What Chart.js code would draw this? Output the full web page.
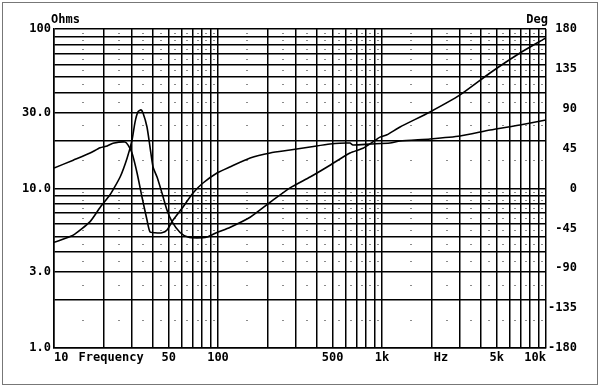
<!DOCTYPE html>
<html>
<head>
<meta charset="utf-8">
<script src="https://cdn.jsdelivr.net/npm/chart.js@4"></script>
<style>
  html, body { margin: 0; padding: 0; background: #fff; }
  #wrap { position: relative; width: 600px; height: 387px; }
  #frame { position: absolute; left: 2px; top: 2px; width: 594px; height: 381px; border: 1px solid #777; pointer-events: none; }
  canvas { position: absolute; left: 0; top: 0; }
</style>
</head>
<body>
<div id="wrap">
  <canvas id="chart" width="600" height="387"></canvas>
  <div id="frame"></div>
</div>
<script>
// impedance curve (Hz, ohms)
const zFreq = [10, 13.1, 16.6, 19.1, 21.9, 22.9, 25.3, 27.9, 29.9, 31.2, 32.5, 33.9, 34.9, 36.9, 38.5, 40.2, 42.5, 45.5, 48.9, 52.4, 58.7, 65.6, 74.5, 85.7, 98.6, 118, 157, 208, 275, 364, 482, 638, 766, 881, 972, 1072, 1288, 1963, 2990, 4557, 6941, 10000];
const zOhms = [4.6, 5.1, 6.2, 7.6, 9.1, 9.8, 11.8, 15.5, 20.1, 26.1, 30.2, 31.1, 29.7, 24.3, 18.2, 13.6, 11.8, 9.4, 7.3, 6.2, 5.3, 4.96, 4.9, 4.96, 5.3, 5.7, 6.6, 8.2, 10.1, 11.8, 14.0, 16.7, 17.9, 19.6, 21.0, 21.7, 24.3, 30.2, 38.6, 53.0, 70.7, 88];

// phase curve (Hz, degrees)
const pFreq = [10, 13.1, 16.6, 19.1, 21.1, 22.9, 27.1, 28.3, 29.9, 32.1, 34.4, 36.9, 38.5, 41.3, 45.5, 48.9, 53.2, 61.2, 70.4, 81, 98.6, 118, 157, 208, 275, 364, 482, 638, 665, 845, 1119, 1288, 1963, 2990, 4557, 6941, 10000];
const pDeg = [23, 32, 40, 46, 48, 51, 52.5, 49, 40, 17.5, -9.6, -35.5, -49, -50, -50, -46.8, -35.5, -20.9, -5.1, 6.2, 17.5, 24.3, 34.4, 40.1, 43.4, 46.8, 50.2, 51.3, 49.1, 50.2, 51.3, 53.6, 55.9, 59.2, 66, 71.7, 77.3];

// axes
const gridFreqs = [10, 20, 30, 40, 50, 60, 70, 80, 90, 100, 200, 300, 400, 500, 600, 700, 800, 900, 1000, 2000, 3000, 4000, 5000, 6000, 7000, 8000, 9000, 10000];
const xLabelAt = [10, 22.3, 50, 100, 500, 1000, 2290, 5000, 10000];
const xLabels = ['10', 'Frequency', '50', '100', '500', '1k', 'Hz', '5k', '10k'];
const gridOhms = [1, 2, 3, 4, 5, 6, 7, 8, 9, 10, 20, 30, 40, 50, 60, 70, 80, 90, 100];
const ohmLabelAt = [1, 3, 10, 30, 100];
const ohmLabels = ['1.0', '3.0', '10.0', '30.0', '100'];
const degTicks = [-180, -135, -90, -45, 0, 45, 90, 135, 180];

// half-step dots between grid lines
const dotFreqs = [];
const dotOhms = [];
[10, 100, 1000].forEach(d => { for (let k = 1.5; k < 10; k++) dotFreqs.push(k * d); });
[1, 10].forEach(d => { for (let k = 1.5; k < 10; k++) dotOhms.push(k * d); });

const font = { family: 'DejaVu Sans Mono', size: 12, weight: 'bold' };

const extras = {
  id: 'extras',
  beforeDatasetsDraw(chart) {
    const { ctx, scales: { x, y } } = chart;
    ctx.save();
    ctx.fillStyle = '#8a8a8a';
    dotFreqs.forEach(f => dotOhms.forEach(o => {
      const px = Math.round(x.getPixelForValue(f));
      const py = Math.round(y.getPixelForValue(o));
      ctx.fillRect(px - 1, py, 2, 1);
    }));
    ctx.restore();
  },
  afterDraw(chart) {
    const { ctx, chartArea } = chart;
    ctx.save();
    ctx.fillStyle = '#000';
    ctx.font = 'bold 12px "DejaVu Sans Mono"';
    ctx.textBaseline = 'middle';
    ctx.textAlign = 'left';
    ctx.fillText('Ohms', chartArea.left - 3, chartArea.top - 9);
    ctx.textAlign = 'right';
    ctx.fillText('Deg', chartArea.right + 2, chartArea.top - 9);
    ctx.restore();
  }
};

new Chart(document.getElementById('chart'), {
  type: 'scatter',
  data: {
    datasets: [
      {
        label: 'Impedance',
        data: zFreq.map((f, i) => ({ x: f, y: zOhms[i] })),
        yAxisID: 'y',
        showLine: true,
        borderColor: '#000',
        borderWidth: 1.6,
        pointRadius: 0,
        tension: 0.2
      },
      {
        label: 'Phase',
        data: pFreq.map((f, i) => ({ x: f, y: pDeg[i] })),
        yAxisID: 'y2',
        showLine: true,
        borderColor: '#000',
        borderWidth: 1.6,
        pointRadius: 0,
        tension: 0.2
      }
    ]
  },
  options: {
    responsive: false,
    animation: false,
    layout: { padding: { left: 0, right: 23, top: 29, bottom: 0 } },
    plugins: { legend: { display: false }, tooltip: { enabled: false } },
    scales: {
      x: {
        type: 'logarithmic',
        min: 10,
        max: 10000,
        afterBuildTicks(scale) {
          const vals = [...new Set([...gridFreqs, ...xLabelAt])].sort((a, b) => a - b);
          scale.ticks = vals.map(v => ({ value: v }));
        },
        afterFit(scale) { scale.height = 39; },
        grid: {
          color: c => gridFreqs.includes(c.tick && c.tick.value) ? '#000' : 'rgba(0,0,0,0)',
          lineWidth: 1.5,
          drawTicks: false
        },
        border: { display: true, color: '#000', width: 1.5 },
        ticks: {
          autoSkip: false,
          maxRotation: 0,
          align: 'inner',
          padding: 3,
          color: '#000',
          font,
          callback: v => {
            const i = xLabelAt.indexOf(v);
            return i >= 0 ? xLabels[i] : '';
          }
        }
      },
      y: {
        type: 'logarithmic',
        position: 'left',
        min: 1,
        max: 100,
        afterBuildTicks(scale) { scale.ticks = gridOhms.map(v => ({ value: v })); },
        afterFit(scale) { scale.width = 54; },
        grid: { color: '#000', lineWidth: 1.5, drawTicks: false },
        border: { display: true, color: '#000', width: 1.5 },
        ticks: {
          autoSkip: false,
          padding: 3,
          color: '#000',
          font,
          callback: v => {
            const i = ohmLabelAt.indexOf(v);
            return i >= 0 ? ohmLabels[i] : '';
          }
        }
      },
      y2: {
        type: 'linear',
        position: 'right',
        min: -180,
        max: 180,
        afterBuildTicks(scale) { scale.ticks = degTicks.map(v => ({ value: v })); },
        afterFit(scale) { scale.width = 31; },
        grid: { display: false, drawTicks: false },
        border: { display: false },
        ticks: {
          autoSkip: false,
          crossAlign: 'far',
          color: '#000',
          font,
          callback: v => String(v)
        }
      }
    }
  },
  plugins: [extras]
});
</script>
</body>
</html>
